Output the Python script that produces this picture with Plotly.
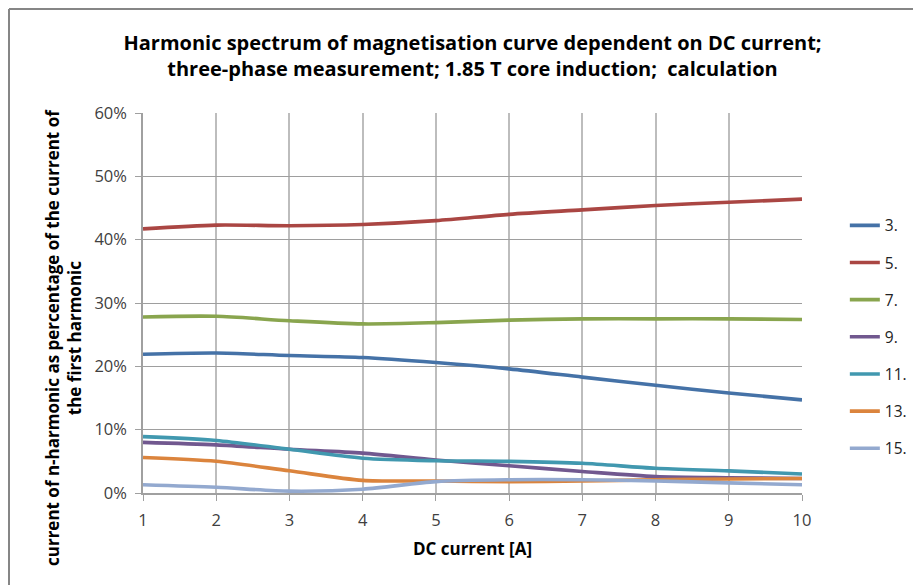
import plotly.graph_objects as go

dc_current = [1, 2, 3, 4, 5, 6, 7, 8, 9, 10]

h3 = [21.9, 22.1, 21.7, 21.4, 20.6, 19.6, 18.3, 17.0, 15.8, 14.7]
h5 = [41.7, 42.3, 42.2, 42.4, 43.0, 44.0, 44.7, 45.4, 45.9, 46.4]
h7 = [27.8, 27.9, 27.2, 26.7, 26.9, 27.3, 27.5, 27.5, 27.5, 27.4]
h9 = [8.0, 7.6, 6.9, 6.3, 5.2, 4.3, 3.4, 2.6, 2.4, 2.3]
h11 = [8.9, 8.3, 6.9, 5.5, 5.1, 5.0, 4.7, 3.9, 3.5, 3.0]
h13 = [5.6, 5.0, 3.5, 2.0, 1.9, 1.8, 1.9, 2.1, 2.2, 2.3]
h15 = [1.3, 0.9, 0.3, 0.6, 1.8, 2.1, 2.1, 1.9, 1.6, 1.3]

series_names = ["3.", "5.", "7.", "9.", "11.", "13.", "15."]
series_values = [h3, h5, h7, h9, h11, h13, h15]
colors = ["#4572A7", "#AA4643", "#89A54E", "#71588F", "#4198AF", "#DB843D", "#93A9CF"]

y_ticks = [0, 10, 20, 30, 40, 50, 60]
y_tick_labels = ["0%", "10%", "20%", "30%", "40%", "50%", "60%"]

FONT = "'Open Sans', sans-serif"

fig = go.Figure()
for name, vals, col in zip(series_names, series_values, colors):
    fig.add_trace(go.Scatter(
        x=dc_current, y=vals, name=name, mode="lines",
        line=dict(color=col, width=3.6, shape="spline", smoothing=0.8),
        legendgroup=name,
    ))

W, H = 913, 577
L, T, PW, PH = 135, 105, 659, 380
fig.update_layout(
    width=W, height=H,
    margin=dict(l=L, r=W - L - PW, t=T, b=H - T - PH, autoexpand=False),
    paper_bgcolor="white", plot_bgcolor="white",
    font=dict(family=FONT, color="#404040", size=16),
    title=dict(
        text="<b>Harmonic spectrum of magnetisation curve dependent on DC current;<br>three-phase measurement; 1.85 T core induction;  calculation</b>",
        x=0.5, xref="paper", xanchor="center",
        y=1 - 42 / H, yref="container", yanchor="middle",
        font=dict(family=FONT, size=20, color="#000000"),
    ),
    legend=dict(
        x=1.065, xref="paper", xanchor="left",
        y=0.748, yanchor="top",
        font=dict(size=15.5, color="#222222"),
        tracegroupgap=14,
        bgcolor="rgba(0,0,0,0)",
    ),
    showlegend=True,
    shapes=[
        dict(type="line", xref="paper", yref="paper",
             x0=(1 - L) / PW, x1=(W + 10 - L) / PW,
             y0=1 + (T - 1) / PH, y1=1 + (T - 1) / PH,
             line=dict(color="#868686", width=2)),
        dict(type="line", xref="paper", yref="paper",
             x0=(1 - L) / PW, x1=(1 - L) / PW,
             y0=1 + (T - 1) / PH, y1=-(H + 10 - T - PH) / PH,
             line=dict(color="#868686", width=2)),
    ],
    annotations=[
        dict(text="<b>current of n-harmonic as percentage of the current of<br>the first harmonic</b>",
             textangle=-90, xref="paper", yref="paper",
             x=(63 - 143) / PW, y=(493 - 338) / PH,
             xanchor="center", yanchor="middle", showarrow=False, align="center",
             font=dict(family=FONT, size=17, color="#000000")),
    ],
)

fig.update_xaxes(
    range=[1, 10], tickmode="array", tickvals=dc_current,
    ticks="outside", ticklen=6, tickcolor="#A0A0A0",
    showgrid=True, gridcolor="#BDBDBD", gridwidth=1.5,
    showline=True, linecolor="#A0A0A0", linewidth=1.5,
    zeroline=False, automargin=False, ticklabelstandoff=5,
    tickfont=dict(size=16.5, color="#404040"),
    title=dict(text="<b>DC current [A]</b>", font=dict(size=17, color="#000000"), standoff=14),
)
fig.update_yaxes(
    range=[0, 60], tickmode="array", tickvals=y_ticks, ticktext=y_tick_labels,
    ticks="outside", ticklen=6, tickcolor="#A0A0A0",
    showgrid=True, gridcolor="#9E9E9E", gridwidth=1.3,
    showline=True, linecolor="#A0A0A0", linewidth=1.5,
    zeroline=False, automargin=False, ticklabelstandoff=5,
    tickfont=dict(size=16.5, color="#404040"),
)

fig.write_html("out.html")
